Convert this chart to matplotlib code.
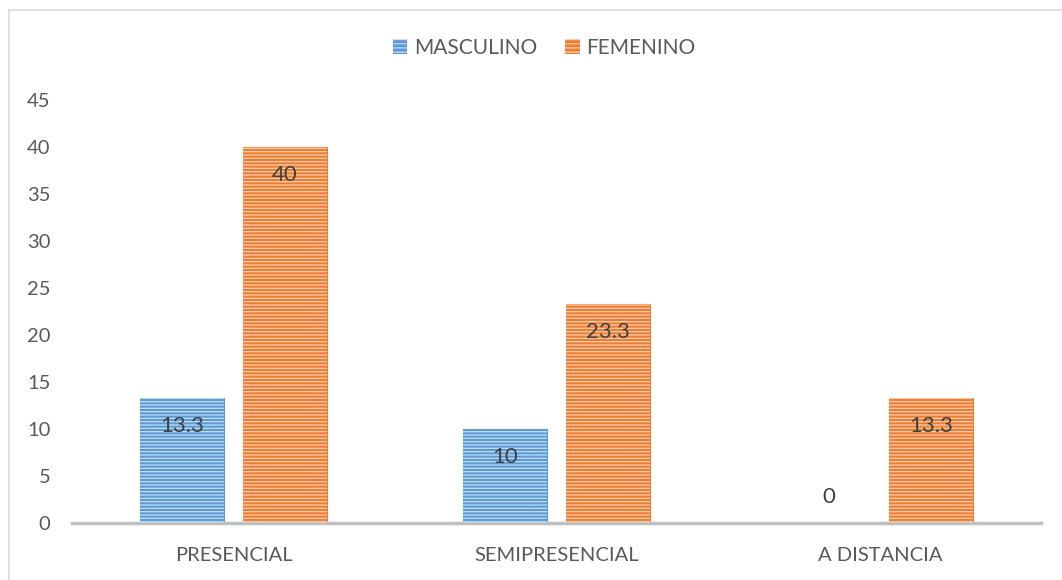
import matplotlib
matplotlib.use("Agg")
import matplotlib.pyplot as plt
import numpy as np
from matplotlib.patches import Rectangle
from matplotlib.lines import Line2D

categories = ["PRESENCIAL", "SEMIPRESENCIAL", "A DISTANCIA"]
series_names = ["MASCULINO", "FEMENINO"]
masculino = [13.3, 10, 0]
femenino = [40, 23.3, 13.3]
y_ticks = [0, 5, 10, 15, 20, 25, 30, 35, 40, 45]

plt.rcParams['font.family'] = ['Lato', 'DejaVu Sans']
plt.rcParams['hatch.linewidth'] = 0.9
text_color = "#595959"

W, H = 1062, 580
fig = plt.figure(figsize=(W / 100, H / 100), dpi=100)
ax = fig.add_axes([72 / W, (H - 523) / H, (1041.5 - 72) / W, 423 / H])

x = np.arange(len(categories))
width = 0.26
offset = 0.159

styles = [
    dict(face="#5B9BD5", hatchc="#C5DCF1"),
    dict(face="#ED7D31", hatchc="#F9CFB2"),
]
for vals, off, st, name in zip([masculino, femenino], [-offset, offset], styles, series_names):
    ax.bar(x + off, vals, width, color=st["face"], edgecolor=st["face"], linewidth=0.8, zorder=2)
    ax.bar(x + off, vals, width, facecolor="none", edgecolor=st["hatchc"], hatch="-----",
           linewidth=0, zorder=3)
    for xi, v in zip(x + off, vals):
        if v > 0:
            ax.annotate(f"{v:g}", (xi, v), xytext=(0, -20), textcoords="offset points",
                        ha="center", va="center", fontsize=16, color="#404040", zorder=5)
        else:
            ax.annotate(f"{v:g}", (xi, v), xytext=(0, 19), textcoords="offset points",
                        ha="center", va="center", fontsize=16, color="#404040", zorder=5)

ax.set_xlim(-0.5, 2.5)
ax.set_ylim(0, 45)
ax.set_yticks(y_ticks)
ax.set_yticklabels([str(t) for t in y_ticks], fontsize=14.5, color=text_color)
ax.set_xticks(x)
ax.set_xticklabels(categories, fontsize=14.5, color=text_color)
ax.tick_params(axis="both", length=0)
ax.tick_params(axis="y", pad=15.5)
ax.tick_params(axis="x", pad=17)
for s in ["top", "right", "left"]:
    ax.spines[s].set_visible(False)
ax.spines["bottom"].set_color("#BFBFBF")
ax.spines["bottom"].set_linewidth(2.5)

handles = [Rectangle((0, 0), 1, 1, facecolor=st["face"], edgecolor=st["hatchc"], hatch="----", linewidth=0)
           for st in styles]
leg = fig.legend(handles, series_names, loc="center", bbox_to_anchor=(544 / W, 1 - 48 / H),
                 ncol=2, frameon=False, fontsize=15, handlelength=0.7, handleheight=0.7,
                 handletextpad=0.3, columnspacing=1.35)
for t in leg.get_texts():
    t.set_color(text_color)

# chart border (left and top visible)
fig.add_artist(Line2D([8.5 / W, 8.5 / W], [0, 1 - 10 / H], transform=fig.transFigure,
                      color="#D9D9D9", linewidth=1.2))
fig.add_artist(Line2D([8.5 / W, 1], [1 - 10 / H, 1 - 10 / H], transform=fig.transFigure,
                      color="#D9D9D9", linewidth=1.2))

fig.savefig("out.png", dpi=100)
